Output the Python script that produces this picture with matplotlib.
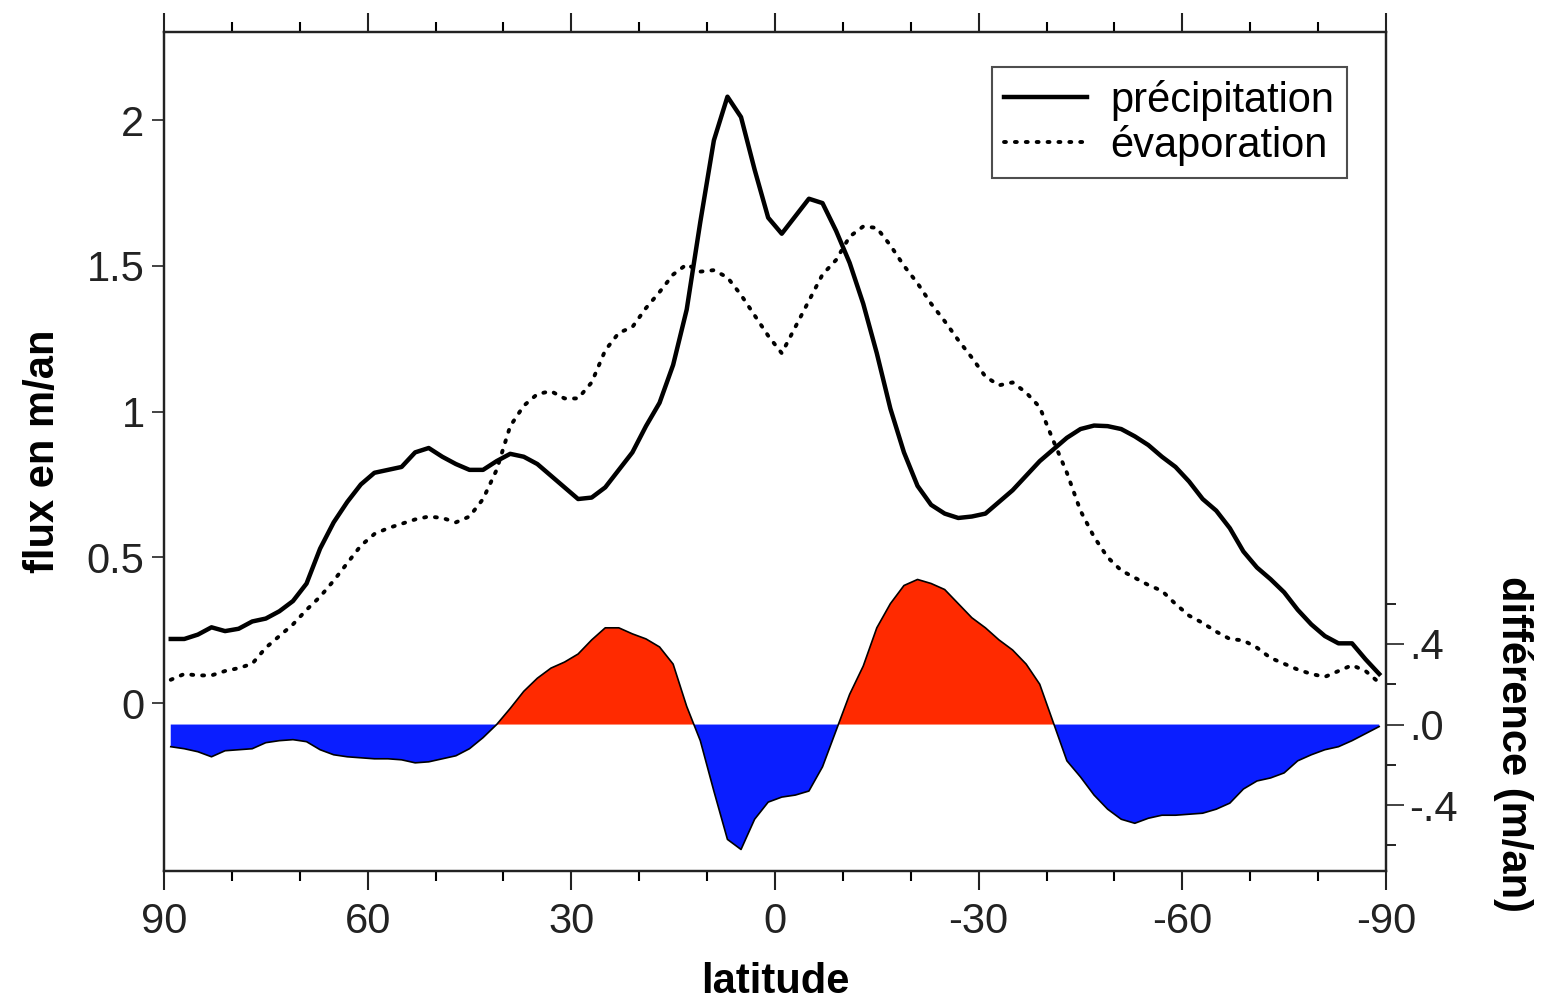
import numpy as np
import matplotlib
matplotlib.use("Agg")
import matplotlib.pyplot as plt
from matplotlib.ticker import MultipleLocator, FixedLocator, FixedFormatter

plt.rcParams['font.family'] = ['Liberation Sans', 'DejaVu Sans']

lat = [89, 87, 85, 83, 81, 79, 77, 75, 73, 71, 69, 67, 65, 63, 61, 59, 57, 55, 53, 51,
       49, 47, 45, 43, 41, 39, 37, 35, 33, 31, 29, 27, 25, 23, 21, 19, 17, 15, 13, 11,
       9, 7, 5, 3, 1, -1, -3, -5, -7, -9, -11, -13, -15, -17, -19, -21, -23, -25, -27, -29,
       -31, -33, -35, -37, -39, -41, -43, -45, -47, -49, -51, -53, -55, -57, -59, -61, -63, -65, -67, -69,
       -71, -73, -75, -77, -79, -81, -83, -85, -87, -89]

precipitation = [0.22, 0.22, 0.235, 0.26, 0.247, 0.255, 0.28, 0.29, 0.315, 0.35,
                 0.41, 0.53, 0.62, 0.69, 0.75, 0.79, 0.80, 0.81, 0.86, 0.875,
                 0.845, 0.82, 0.80, 0.80, 0.83, 0.855, 0.845, 0.82, 0.78, 0.74,
                 0.70, 0.705, 0.74, 0.80, 0.86, 0.95, 1.03, 1.16, 1.35, 1.65,
                 1.93, 2.08, 2.01, 1.83, 1.665, 1.61, 1.67, 1.73, 1.715, 1.62,
                 1.51, 1.37, 1.20, 1.01, 0.86, 0.745, 0.68, 0.65, 0.635, 0.64,
                 0.65, 0.69, 0.73, 0.78, 0.83, 0.87, 0.91, 0.94, 0.952, 0.95,
                 0.94, 0.915, 0.885, 0.845, 0.81, 0.76, 0.70, 0.66, 0.60, 0.52,
                 0.465, 0.425, 0.38, 0.32, 0.27, 0.23, 0.205, 0.205, 0.15, 0.10]

evaporation = [0.08, 0.10, 0.095, 0.095, 0.11, 0.12, 0.135, 0.19, 0.23, 0.27,
               0.32, 0.365, 0.42, 0.48, 0.54, 0.58, 0.60, 0.615, 0.63, 0.64,
               0.635, 0.62, 0.64, 0.70, 0.80, 0.95, 1.02, 1.06, 1.07, 1.045,
               1.045, 1.10, 1.21, 1.27, 1.29, 1.355, 1.41, 1.47, 1.505, 1.48,
               1.485, 1.46, 1.40, 1.33, 1.26, 1.20, 1.29, 1.38, 1.47, 1.52,
               1.60, 1.635, 1.63, 1.57, 1.50, 1.44, 1.37, 1.31, 1.245, 1.185,
               1.12, 1.09, 1.10, 1.065, 1.015, 0.90, 0.79, 0.66, 0.57, 0.50,
               0.455, 0.43, 0.405, 0.385, 0.34, 0.30, 0.275, 0.245, 0.22, 0.215,
               0.19, 0.155, 0.135, 0.115, 0.10, 0.09, 0.11, 0.13, 0.11, 0.07]

difference = [-0.11, -0.12, -0.135, -0.16, -0.13, -0.125, -0.12, -0.09, -0.08, -0.075,
              -0.085, -0.125, -0.15, -0.16, -0.165, -0.17, -0.17, -0.175, -0.19, -0.185,
              -0.17, -0.155, -0.12, -0.065, 0.0, 0.08, 0.165, 0.23, 0.28, 0.31,
              0.35, 0.42, 0.48, 0.48, 0.45, 0.425, 0.385, 0.30, 0.09, -0.08,
              -0.33, -0.57, -0.62, -0.47, -0.385, -0.36, -0.35, -0.33, -0.21, -0.03,
              0.15, 0.29, 0.48, 0.60, 0.69, 0.72, 0.70, 0.67, 0.60, 0.53,
              0.48, 0.42, 0.37, 0.30, 0.20, 0.01, -0.18, -0.26, -0.35, -0.42,
              -0.47, -0.49, -0.465, -0.45, -0.45, -0.445, -0.44, -0.42, -0.39, -0.32,
              -0.28, -0.265, -0.24, -0.18, -0.15, -0.125, -0.11, -0.08, -0.045, -0.01]

x_major = [90, 60, 30, 0, -30, -60, -90]
x_labels = ['90', '60', '30', '0', '-30', '-60', '-90']
y_left_ticks = [0, 0.5, 1, 1.5, 2]
y_left_labels = ['0', '0.5', '1', '1.5', '2']
y_right_major = [-0.4, 0.0, 0.4]
y_right_labels = ['-.4', '.0', '.4']
y_right_minor = [-0.6, -0.2, 0.2, 0.6]

FS = 30

fig = plt.figure(figsize=(15.41, 10.02), dpi=100)
ax = fig.add_axes([0.1064, 0.1307, 0.7930, 0.8374])
ax2 = ax.twinx()

lat_a = np.array(lat, dtype=float)
diff_a = np.array(difference, dtype=float)

# difference (right axis)
ax2.fill_between(lat_a, 0, diff_a, where=diff_a >= 0, interpolate=True,
                 color='#ff2a00', linewidth=0)
ax2.fill_between(lat_a, 0, diff_a, where=diff_a <= 0, interpolate=True,
                 color='#0a1eff', linewidth=0)
ax2.plot(lat_a, diff_a, color='black', linewidth=1.2)

# main curves (left axis) drawn on top
ax.set_zorder(ax2.get_zorder() + 1)
ax.patch.set_visible(False)
ax.plot(lat, precipitation, color='black', linewidth=3.2, solid_joinstyle='round',
        label='précipitation')
ax.plot(lat, evaporation, color='black', linewidth=2.8, linestyle=(0, (0.5, 2.3)),
        dash_capstyle='round', label='évaporation')

ax.set_xlim(90, -90)
ax.set_ylim(-0.576, 2.302)
ax2.set_ylim(-0.727, 3.437)

ax.xaxis.set_major_locator(FixedLocator(x_major))
ax.xaxis.set_major_formatter(FixedFormatter(x_labels))
ax.xaxis.set_minor_locator(MultipleLocator(10))
ax.yaxis.set_major_locator(FixedLocator(y_left_ticks))
ax.yaxis.set_major_formatter(FixedFormatter(y_left_labels))
ax2.yaxis.set_major_locator(FixedLocator(y_right_major))
ax2.yaxis.set_major_formatter(FixedFormatter(y_right_labels))
ax2.yaxis.set_minor_locator(FixedLocator(y_right_minor))

ax.tick_params(axis='x', which='major', direction='out', length=14, width=1.5,
               top=True, bottom=True, labelsize=FS, pad=8, colors='#222222')
ax.tick_params(axis='x', which='minor', direction='out', length=7.5, width=1.5,
               top=True, bottom=True)
ax.tick_params(axis='y', which='major', direction='out', length=9, width=1.2,
               labelsize=FS, pad=5, colors='#222222', right=False)
ax2.tick_params(axis='y', which='major', direction='out', length=13, width=1.2,
                labelsize=FS, pad=4, colors='#222222')
ax2.tick_params(axis='y', which='minor', direction='out', length=7, width=1.2)

for a in (ax, ax2):
    for s in a.spines.values():
        s.set_linewidth(1.6)
        s.set_color('#222222')

ax.set_xlabel('latitude', fontsize=FS, fontweight='bold')
ax.xaxis.set_label_coords(0.5, -0.108)
ax.set_ylabel('flux en m/an', fontsize=FS, fontweight='bold')
ax.yaxis.set_label_coords(-0.083, 0.5)
ax2.set_ylabel('différence (m/an)', fontsize=FS, fontweight='bold', rotation=270,
               va='center')
ax2.yaxis.set_label_coords(1.104, 0.151)

leg = ax.legend(loc='upper right', fontsize=FS, frameon=True, fancybox=False,
                handlelength=2.0, handletextpad=0.55, borderpad=0.3,
                labelspacing=0.1, borderaxespad=0,
                bbox_to_anchor=(0.968, 0.958))
leg.get_frame().set_edgecolor('#222222')
leg.get_frame().set_linewidth(1.5)

fig.savefig('out.png', dpi=100, facecolor='white')
